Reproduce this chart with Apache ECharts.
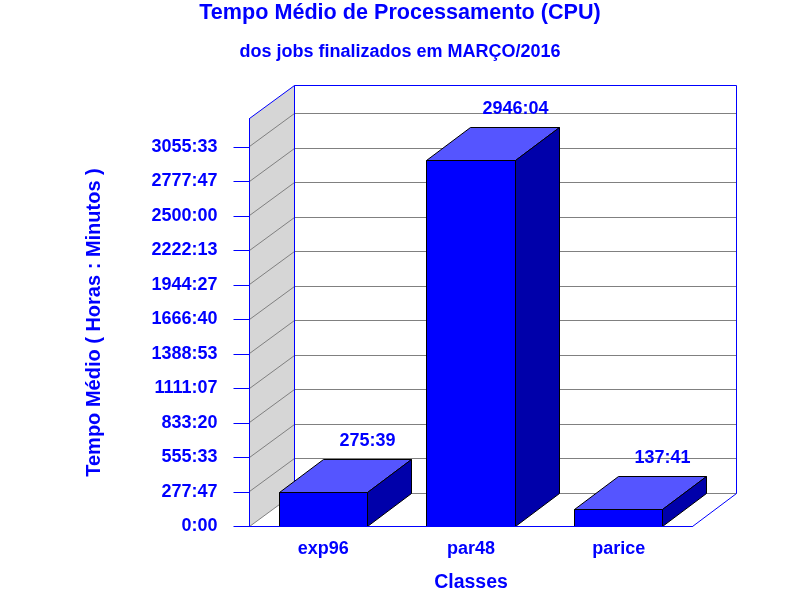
<!DOCTYPE html>
<html><head><meta charset="utf-8">
<style>html,body{margin:0;padding:0;background:#fff}#c{width:800px;height:600px}</style>
<script src="https://cdn.jsdelivr.net/npm/echarts@6/dist/echarts.min.js"></script>
</head><body><div id="c"></div>
<script>
var categories = ["exp96", "par48", "parice"];
var seriesSeconds = [992340, 10605840, 495660];
var valueLabels = ["275:39", "2946:04", "137:41"];
var tickValues = [0,1000000,2000000,3000000,4000000,5000000,6000000,7000000,8000000,9000000,10000000,11000000];
var tickLabels = ["0:00","277:47","555:33","833:20","1111:07","1388:53","1666:40","1944:27","2222:13","2500:00","2777:47","3055:33"];
var axisMax = 11826000;

var BLUE = "#0000ff", GREY = "#808080", WALL = "#d6d6d6";
var FONT = "Liberation Sans";
var DX = 45, DY = 33;
function snap(v){ return Math.floor(v) + 0.5; }
function line(x1,y1,x2,y2,color){
  return {type:"line", shape:{x1:x1,y1:y1,x2:x2,y2:y2}, style:{stroke:color, lineWidth:1, fill:null}};
}
function poly(points, fill){
  return {type:"polygon", shape:{points:points}, style:{fill:fill, stroke:"#000", lineWidth:1}};
}

function renderBack(params, api){
  var leftBand = api.size([1,0])[0];
  var x0 = snap(api.coord([0,0])[0] - leftBand/2);
  var x1 = snap(api.coord([categories.length-1,0])[0] + leftBand/2);
  var xBack = x1 + DX - 1;
  var y0 = snap(api.coord([0,0])[1]);
  var yTop = snap(api.coord([0,axisMax])[1]);
  var kids = [];
  kids.push({type:"polygon", shape:{points:[[x0,y0],[x0+DX,y0-DY],[x0+DX,yTop-DY],[x0,yTop]]}, style:{fill:WALL, stroke:null}});
  tickValues.forEach(function(t){
    var y = snap(api.coord([0,t])[1]);
    kids.push(line(x0,y,x0+DX,y-DY,GREY));
    kids.push(line(x0+DX,y-DY,xBack,y-DY,GREY));
  });
  kids.push(line(x0,yTop,x0+DX,yTop-DY,BLUE));
  kids.push(line(x0+DX,yTop-DY,xBack,yTop-DY,BLUE));
  kids.push(line(x0+DX,yTop-DY,x0+DX,y0-DY,BLUE));
  kids.push(line(xBack,yTop-DY,xBack,y0-DY,BLUE));
  kids.push(line(x1,y0,xBack,y0-DY,BLUE));
  return {type:"group", children:kids};
}

function renderBar(params, api){
  var band = api.size([1,0])[0];
  var c = api.coord([api.value(0), api.value(1)]);
  var b = api.coord([api.value(0), 0]);
  var w = band*0.6;
  var l = snap(c[0]-w/2), r = snap(c[0]+w/2), t = snap(c[1]), y0 = snap(b[1]);
  var i = params.dataIndex;
  return {type:"group", children:[
    poly([[l,y0],[r,y0],[r,t],[l,t]], "#0000ff"),
    poly([[l,t],[r,t],[r+DX-1,t-DY],[l+DX-1,t-DY]], "#5555ff"),
    poly([[r,y0],[r+DX-1,y0-DY],[r+DX-1,t-DY],[r,t]], "#0000aa"),
    {type:"text", style:{x:r, y:t-DY-18.5, text:valueLabels[i], fill:BLUE, font:"bold 18px '"+FONT+"'", align:"center", verticalAlign:"middle"}, z2:20}
  ]};
}

var chart = echarts.init(document.getElementById("c"), null, {renderer:"canvas"});
chart.setOption({
  animation:false,
  backgroundColor:"#fff",
  textStyle:{fontFamily:FONT},
  title:[
    {text:"Tempo Médio de Processamento (CPU)", left:"center", top:2, padding:0, textStyle:{color:BLUE, fontSize:21.6, fontWeight:"bold", fontFamily:FONT}},
    {text:"dos jobs finalizados em MARÇO/2016", left:"center", top:43, padding:0, textStyle:{color:BLUE, fontSize:18, fontWeight:"bold", fontFamily:FONT}}
  ],
  grid:{left:249.5, right:107.5, top:118.5, bottom:73.5, containLabel:false, outerBoundsMode:"none"},
  xAxis:{type:"category", data:categories, z:10,
    name:"Classes", nameLocation:"middle", nameGap:46,
    nameTextStyle:{color:BLUE, fontSize:19.5, fontWeight:"bold", fontFamily:FONT},
    axisLine:{lineStyle:{color:BLUE,width:1}}, axisTick:{show:false},
    axisLabel:{color:BLUE, fontSize:18, fontWeight:"bold", fontFamily:FONT, margin:14}},
  yAxis:{type:"value", min:0, max:axisMax, z:10,
    name:"Tempo Médio ( Horas : Minutos )", nameLocation:"middle", nameGap:145, nameRotate:90,
    nameTextStyle:{color:BLUE, fontSize:20, fontWeight:"bold", fontFamily:FONT},
    axisLine:{show:true, lineStyle:{color:BLUE,width:1}},
    axisTick:{show:true, length:16, lineStyle:{color:BLUE,width:1}, customValues:tickValues},
    splitLine:{show:false},
    axisLabel:{color:BLUE, fontSize:18, fontWeight:"bold", fontFamily:FONT, margin:32, customValues:tickValues,
      formatter:function(v){ return tickLabels[tickValues.indexOf(v)]; }}},
  series:[
    {type:"custom", data:[[0,0]], encode:{x:0,y:1}, renderItem:renderBack, silent:true, z:1},
    {type:"custom", data:categories.map(function(c,i){return [i,seriesSeconds[i]];}), encode:{x:0,y:1}, renderItem:renderBar, silent:true, z:3}
  ]
});
</script></body></html>
